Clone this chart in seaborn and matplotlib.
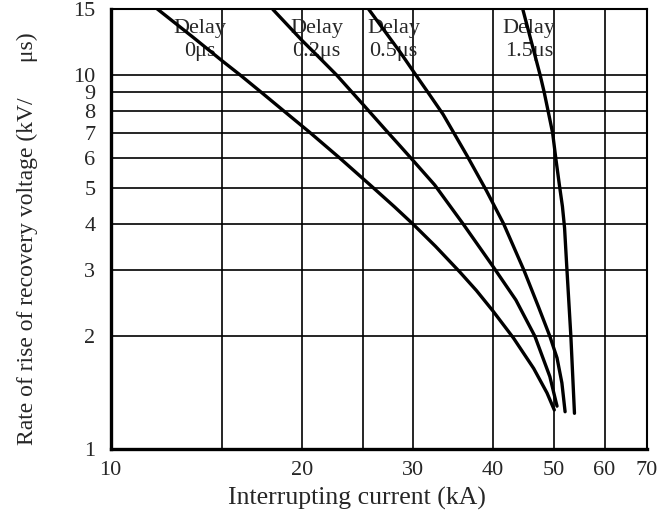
import pandas as pd
import matplotlib
matplotlib.use("Agg")
import matplotlib.pyplot as plt
import seaborn as sns
from matplotlib.ticker import FixedLocator, FixedFormatter, NullFormatter

# values (log-log chart)
delay_labels = ["0μs", "0.2μs", "0.5μs", "1.5μs"]

current_0 = [11.8, 13.5, 15.0, 16.0, 17.3, 18.7, 20.6, 23.0, 25.7, 28.0,
             30.0, 32.5, 35.5, 37.7, 40.0, 43.1, 46.4, 48.7, 50.0]
rrrv_0 = [15.1, 12.6, 10.9, 10.0, 8.97, 8.04, 7.02, 5.98, 5.06, 4.44,
          3.98, 3.48, 2.97, 2.65, 2.34, 1.98, 1.64, 1.41, 1.27]

current_02 = [18.0, 20.0, 21.3, 22.7, 25.0, 27.1, 28.6, 30.0, 32.4,
              35.9, 38.4, 40.0, 43.5, 46.6, 49.2, 50.5]
rrrv_02 = [15.0, 12.4, 11.15, 10.0, 8.33, 7.14, 6.45, 5.89, 5.08,
           4.0, 3.4, 3.08, 2.5, 2.0, 1.56, 1.30]

current_05 = [25.5, 28.6, 30.2, 31.6, 33.4, 36.4, 39.1, 41.6, 44.8,
              47.2, 49.2, 50.5, 51.4, 52.0]
rrrv_05 = [15.0, 11.5, 10.05, 9.0, 7.85, 6.1, 4.9, 4.0, 3.0,
           2.4, 2.0, 1.75, 1.5, 1.256]

current_15 = [44.6, 47.5, 48.2, 48.9, 49.7, 50.3, 51.0, 51.5, 51.9, 52.3, 53.1, 53.8]
rrrv_15 = [15.0, 10.0, 9.0, 8.0, 7.0, 5.95, 5.0, 4.45, 3.9, 3.1, 2.0, 1.244]

x_ticks = [10, 20, 30, 40, 50, 60, 70]
y_ticks = [1, 2, 3, 4, 5, 6, 7, 8, 9, 10, 15]
x_grid = [15, 20, 25, 30, 40, 50, 60]
y_grid = [2, 3, 4, 5, 6, 7, 8, 9, 10]

# label anchors (x in kA)
label_x = [13.8, 21.1, 27.9, 45.6]

frames = []
for lab, xs, ys in zip(delay_labels,
                       [current_0, current_02, current_05, current_15],
                       [rrrv_0, rrrv_02, rrrv_05, rrrv_15]):
    frames.append(pd.DataFrame({"current": xs, "rrrv": ys, "delay": lab}))
df = pd.concat(frames, ignore_index=True)

sns.set_style("white")
plt.rcParams["font.family"] = ["Liberation Serif", "DejaVu Serif"]

fig = plt.figure(figsize=(6.7, 5.14), dpi=100)
ax = fig.add_axes([0.1652, 0.127, 0.8005, 0.855])

ax.set_xscale("log")
ax.set_yscale("log")
ax.set_xlim(10, 70)
ax.set_ylim(1, 15)

for gx in x_grid:
    ax.axvline(gx, color="black", lw=1.2, zorder=1)
for gy in y_grid:
    ax.axhline(gy, color="black", lw=1.2, zorder=1)

sns.lineplot(data=df, x="current", y="rrrv", hue="delay",
             palette=["black"] * 4, sort=False, estimator=None,
             linewidth=2.4, legend=False, ax=ax, zorder=3)

for lab, lx in zip(delay_labels, label_x):
    ax.text(lx, 14.1, "Delay\n" + lab, ha="center", va="top",
            fontsize=16, linespacing=1.25, zorder=2)

ax.xaxis.set_major_locator(FixedLocator(x_ticks))
ax.xaxis.set_major_formatter(FixedFormatter([str(v) for v in x_ticks]))
ax.xaxis.set_minor_locator(FixedLocator([10]))
ax.xaxis.set_minor_formatter(NullFormatter())
ax.yaxis.set_major_locator(FixedLocator(y_ticks))
ax.yaxis.set_major_formatter(FixedFormatter([str(v) for v in y_ticks]))
ax.yaxis.set_minor_locator(FixedLocator([1, 10]))
ax.yaxis.set_minor_formatter(NullFormatter())

ax.tick_params(axis="both", which="major", length=0, labelsize=16)
ax.tick_params(axis="x", which="major", pad=9)
ax.tick_params(axis="y", which="major", pad=11)
ax.tick_params(axis="y", which="minor", length=6, width=1.8, direction="out")
ax.tick_params(axis="x", which="minor", length=4, width=2.2, direction="out")

for side in ["left", "bottom"]:
    ax.spines[side].set_linewidth(2.4)
for side in ["top", "right"]:
    ax.spines[side].set_linewidth(1.5)
for s in ax.spines.values():
    s.set_color("black")
    s.set_visible(True)

ax.set_xlabel("Interrupting current (kA)", fontsize=18.5)
ax.xaxis.set_label_coords(0.459, -0.088)
ax.set_ylabel("Rate of rise of recovery voltage (kV/      μs)", fontsize=17)
ax.yaxis.set_label_coords(-0.136, 0.479)

plt.savefig("out.png", dpi=100)
